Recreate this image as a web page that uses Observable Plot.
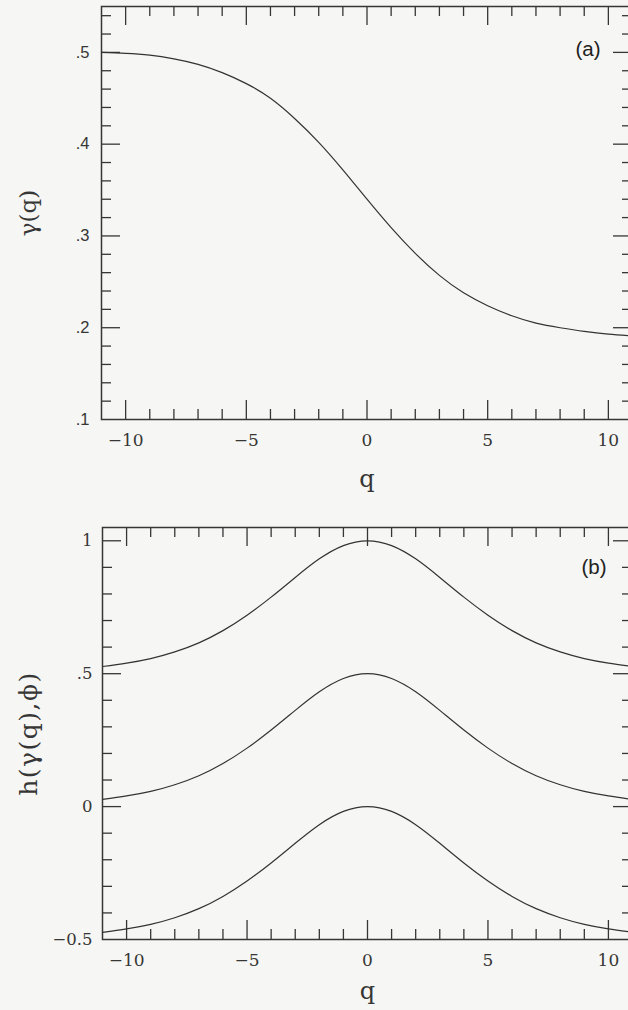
<!DOCTYPE html>
<html><head><meta charset="utf-8">
<script src="https://cdn.jsdelivr.net/npm/d3@7"></script>
<script src="https://cdn.jsdelivr.net/npm/@observablehq/plot@0.6"></script>
<style>
html,body{margin:0;padding:0;background:#f6f6f4;overflow:hidden;width:628px;height:1010px}
svg{display:block}
</style></head><body><div id="a"></div><div id="b"></div>
<script>
// ---- data ----
const qValues = [-11,-10,-9,-8,-7,-6,-5,-4,-3,-2,-1,0,1,2,3,4,5,6,7,8,9,10,11];
const gammaValues = [0.500,0.499,0.497,0.493,0.487,0.478,0.466,0.450,0.428,0.402,0.372,0.340,0.309,0.281,0.257,0.238,0.224,0.213,0.205,0.200,0.196,0.193,0.191];
const hUpper  = [0.527,0.540,0.557,0.582,0.616,0.662,0.720,0.788,0.862,0.932,0.982,1.000,0.982,0.932,0.862,0.788,0.720,0.662,0.616,0.582,0.557,0.540,0.527];
const hMiddle = [0.027,0.040,0.057,0.082,0.116,0.162,0.220,0.288,0.362,0.432,0.482,0.500,0.482,0.432,0.362,0.288,0.220,0.162,0.116,0.082,0.057,0.040,0.027];
const hLower  = [-0.473,-0.460,-0.443,-0.418,-0.384,-0.338,-0.280,-0.212,-0.138,-0.068,-0.018,0.000,-0.018,-0.068,-0.138,-0.212,-0.280,-0.338,-0.384,-0.418,-0.443,-0.460,-0.473];

const xMajorTicks = [-10,-5,0,5,10];
const xMinorTicks = [-9,-8,-7,-6,-4,-3,-2,-1,1,2,3,4,6,7,8,9];
const gammaLabelTicks = [0.1,0.2,0.3,0.4,0.5];
const gammaMajorTicks = [0.2,0.3,0.4,0.5];
const gammaMinorTicks = [0.12,0.14,0.16,0.18,0.22,0.24,0.26,0.28,0.32,0.34,0.36,0.38,0.42,0.44,0.46,0.48,0.52,0.54];
const hLabelTicks = [-0.5,0,0.5,1];
const hMajorTicks = [0,0.5,1];
const hMinorTicks = [-0.4,-0.3,-0.2,-0.1,0.1,0.2,0.3,0.4,0.6,0.7,0.8,0.9];
const panelTags = ["(a)","(b)"];
const xTitle = "q";
const yTitleA = "γ(q)";
const yTitleB = "h(γ(q),ϕ)";

// ---- helpers ----
const INK = "#363636";
const SERIF = "DejaVu Serif";
const fmtDot = d => d3.format(".1f")(d).replace(/^0/, "").replace(/^-0/, "−").replace(/^-/, "−");
const fmtH = d => (d === 0 || d === 1) ? String(d) : fmtDot(d);

// inward-pointing ticks on all four sides of a frame of size w x h (inner)
function frameTicks(w, h, xMaj, xMin, yMaj, yMin) {
  const st = {stroke: INK, strokeWidth: 1.3};
  const out = [];
  for (const [vals, len] of [[xMaj, 19], [xMin, 10]]) {
    out.push(Plot.tickX(vals, {x: d => d, insetTop: h - len, ...st}));
    out.push(Plot.tickX(vals, {x: d => d, insetBottom: h - len, ...st}));
  }
  for (const [vals, len] of [[yMaj, 19], [yMin, 10]]) {
    out.push(Plot.tickY(vals, {y: d => d, insetRight: w - len, ...st}));
    out.push(Plot.tickY(vals, {y: d => d, insetLeft: w - len, ...st}));
  }
  return out;
}

const rowsA = qValues.map((q, i) => ({q, gamma: gammaValues[i]}));
const rowsB = [
  ...qValues.map((q, i) => ({q, h: hUpper[i], s: "upper"})),
  ...qValues.map((q, i) => ({q, h: hMiddle[i], s: "middle"})),
  ...qValues.map((q, i) => ({q, h: hLower[i], s: "lower"}))
];

const W = 628, H = 505, MR = -4;
const A = {ml: 101, mt: 6, mb: 86};
const B = {ml: 102, mt: 22, mb: 71};

const plotA = Plot.plot({
  width: W, height: H,
  marginLeft: A.ml, marginRight: MR, marginTop: A.mt, marginBottom: A.mb,
  style: {background: "transparent", color: INK},
  x: {domain: [-11, 11], label: null, axis: null},
  y: {domain: [0.1, 0.55], label: null, axis: null},
  marks: [
    ...frameTicks(W - MR - A.ml, H - A.mt - A.mb, xMajorTicks, xMinorTicks, gammaMajorTicks, gammaMinorTicks),
    Plot.axisX({anchor: "bottom", ticks: xMajorTicks, tickSize: 0, tickPadding: 14, fontSize: 17, fontFamily: SERIF, label: null, fill: INK}),
    Plot.axisY({anchor: "left", ticks: gammaLabelTicks, tickSize: 0, tickPadding: 12, tickFormat: fmtDot, fontSize: 16.5, fontFamily: "Liberation Sans", label: null, fill: INK}),
    Plot.frame({stroke: INK, strokeWidth: 1.5}),
    Plot.line(rowsA, {x: "q", y: "gamma", curve: "natural", stroke: "#333", strokeWidth: 1.2}),
    Plot.text([panelTags[0]], {frameAnchor: "top-right", dx: -32, dy: 43, textAnchor: "end", lineAnchor: "middle", fontSize: 20.5, fontFamily: "Liberation Sans", fill: "#222"}),
    Plot.text([xTitle], {frameAnchor: "bottom", dy: 60, lineAnchor: "middle", fontSize: 24, fontFamily: SERIF, fill: INK}),
    Plot.text([yTitleA], {frameAnchor: "left", dx: -73, rotate: -90, textAnchor: "middle", lineAnchor: "middle", fontSize: 23, fontFamily: SERIF, fill: INK})
  ]
});
document.getElementById("a").append(plotA);

const plotB = Plot.plot({
  width: W, height: H,
  marginLeft: B.ml, marginRight: MR, marginTop: B.mt, marginBottom: B.mb,
  style: {background: "transparent", color: INK},
  x: {domain: [-11, 11], label: null, axis: null},
  y: {domain: [-0.5, 1.05], label: null, axis: null},
  marks: [
    ...frameTicks(W - MR - B.ml, H - B.mt - B.mb, xMajorTicks, xMinorTicks, hMajorTicks, hMinorTicks),
    Plot.axisX({anchor: "bottom", ticks: xMajorTicks, tickSize: 0, tickPadding: 14, fontSize: 17, fontFamily: SERIF, label: null, fill: INK}),
    Plot.axisY({anchor: "left", ticks: hLabelTicks, tickSize: 0, tickPadding: 10, tickFormat: fmtH, fontSize: 16.5, fontFamily: SERIF, label: null, fill: INK}),
    Plot.frame({stroke: INK, strokeWidth: 1.5}),
    Plot.line(rowsB, {x: "q", y: "h", z: "s", curve: "natural", stroke: "#333", strokeWidth: 1.2}),
    Plot.text([panelTags[1]], {frameAnchor: "top-right", dx: -26, dy: 40, textAnchor: "end", lineAnchor: "middle", fontSize: 20.5, fontFamily: "Liberation Sans", fill: "#222"}),
    Plot.text([xTitle], {frameAnchor: "bottom", dy: 52, lineAnchor: "middle", fontSize: 24, fontFamily: SERIF, fill: INK}),
    Plot.text([yTitleB], {frameAnchor: "left", dx: -74, rotate: -90, textAnchor: "middle", lineAnchor: "middle", fontSize: 25, fontFamily: SERIF, fill: INK})
  ]
});
document.getElementById("b").append(plotB);
d3.select(plotB).selectAll("text").filter(function() { return this.textContent === yTitleB; }).style("letter-spacing", "1.5px");
</script></body></html>
